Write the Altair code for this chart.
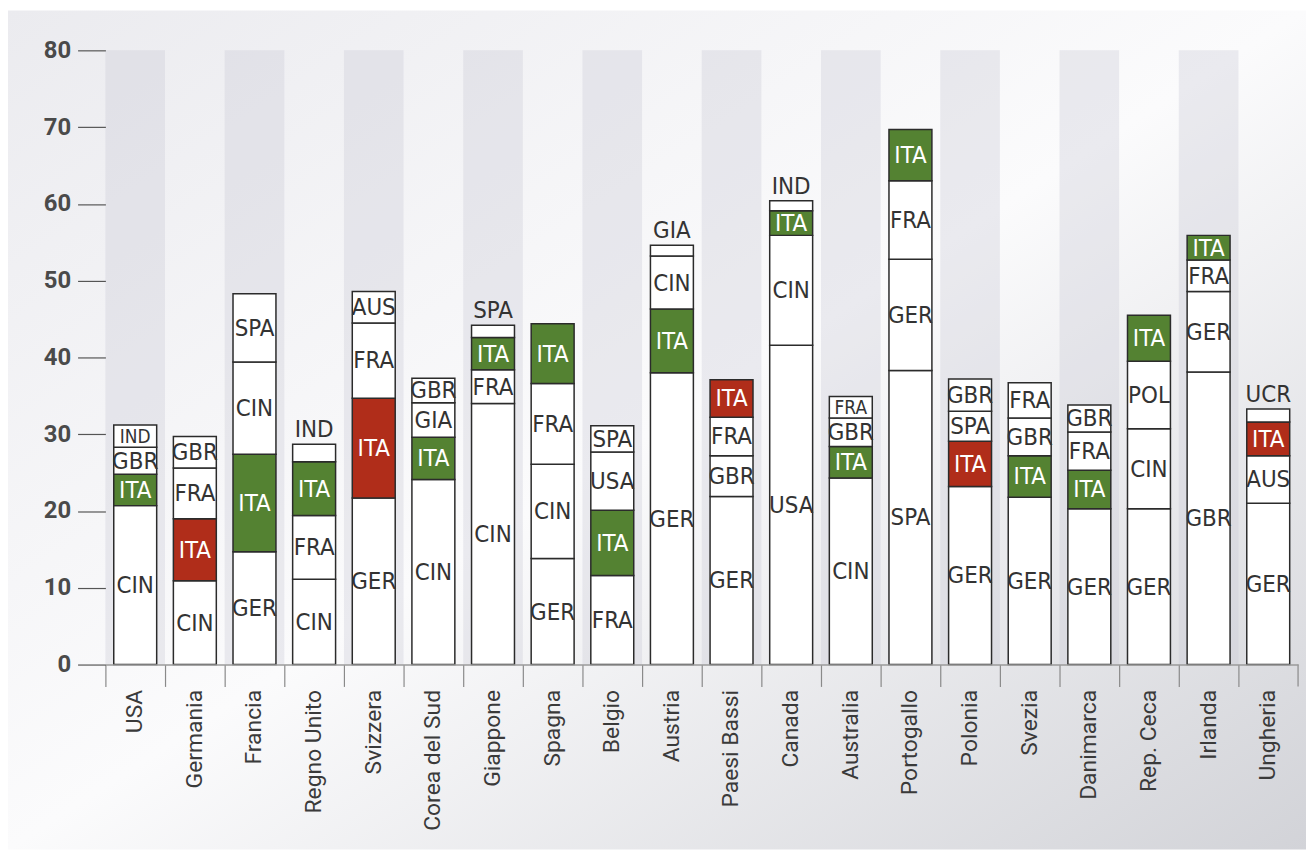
import altair as alt
import pandas as pd

countries = ["USA", "Germania", "Francia", "Regno Unito", "Svizzera", "Corea del Sud",
             "Giappone", "Spagna", "Belgio", "Austria", "Paesi Bassi", "Canada",
             "Australia", "Portogallo", "Polonia", "Svezia", "Danimarca", "Rep. Ceca",
             "Irlanda", "Ungheria"]

# segments from bottom to top
seg_codes = [
    ["CIN", "ITA", "GBR", "IND"],
    ["CIN", "ITA", "FRA", "GBR"],
    ["GER", "ITA", "CIN", "SPA"],
    ["CIN", "FRA", "ITA", "IND"],
    ["GER", "ITA", "FRA", "AUS"],
    ["CIN", "ITA", "GIA", "GBR"],
    ["CIN", "FRA", "ITA", "SPA"],
    ["GER", "CIN", "FRA", "ITA"],
    ["FRA", "ITA", "USA", "SPA"],
    ["GER", "ITA", "CIN", "GIA"],
    ["GER", "GBR", "FRA", "ITA"],
    ["USA", "CIN", "ITA", "IND"],
    ["CIN", "ITA", "GBR", "FRA"],
    ["SPA", "GER", "FRA", "ITA"],
    ["GER", "ITA", "SPA", "GBR"],
    ["GER", "ITA", "GBR", "FRA"],
    ["GER", "ITA", "FRA", "GBR"],
    ["GER", "CIN", "POL", "ITA"],
    ["GBR", "GER", "FRA", "ITA"],
    ["GER", "AUS", "ITA", "UCR"],
]
seg_values = [
    [20.7, 4.1, 3.5, 2.9],
    [10.9, 8.1, 6.6, 4.1],
    [14.7, 12.7, 12.0, 8.9],
    [11.1, 8.3, 7.0, 2.3],
    [21.7, 13.0, 9.8, 4.1],
    [24.1, 5.5, 4.5, 3.2],
    [34.0, 4.4, 4.2, 1.6],
    [13.8, 12.3, 10.5, 7.8],
    [11.6, 8.5, 7.6, 3.4],
    [38.0, 8.3, 6.9, 1.4],
    [21.9, 5.3, 5.0, 4.9],
    [41.6, 14.3, 3.2, 1.3],
    [24.3, 4.1, 3.7, 2.8],
    [38.3, 14.5, 10.2, 6.7],
    [23.2, 5.9, 3.9, 4.2],
    [21.8, 5.4, 4.9, 4.6],
    [20.3, 5.0, 5.0, 3.5],
    [20.3, 10.4, 8.8, 6.0],
    [38.1, 10.5, 4.1, 3.2],
    [21.0, 6.2, 4.4, 1.7],
]
# Italy's position: "up" (green) or "down" (red)
ita_trend = ["up", "down", "up", "up", "down", "up", "up", "up", "up", "up",
             "down", "up", "up", "up", "down", "up", "up", "up", "up", "down"]

y_ticks = [0, 10, 20, 30, 40, 50, 60, 70, 80]

rows = []
for i, c in enumerate(countries):
    base = 0.0
    for code, v in zip(seg_codes[i], seg_values[i]):
        if code == "ITA":
            kind = "ita_up" if ita_trend[i] == "up" else "ita_down"
        else:
            kind = "other"
        rows.append(dict(country=c, code=code, y0=base, y1=base + v, mid=base + v / 2,
                         size=v, kind=kind,
                         txtcol="white" if code == "ITA" else "dark"))
        base += v
df = pd.DataFrame(rows)
df["inside"] = df["size"] >= 2.5
bands = pd.DataFrame({"country": countries[::2]})
last = pd.DataFrame({"country": [countries[-1]]})

W, H = 1200, 618
PL, PT, PR, PB = 98, 40, 8, 186

xscale = alt.Scale(domain=countries, paddingInner=0, paddingOuter=0)
yscale = alt.Scale(domain=[0, 80], nice=False)
label_font = "Liberation Sans Narrow, DejaVu Sans Condensed, sans-serif"

x_axis = alt.Axis(title=None, labelAngle=-90, labelFont="Roboto", labelFontSize=23,
                  labelColor="#3a3a3a", labelPadding=3, bandPosition=0,
                  tickSize=22, tickColor="#8a8a8a", tickWidth=1.2,
                  domainColor="#9a9a9a", domainWidth=1.5, grid=False, zindex=2)
y_axis = alt.Axis(title=None, values=y_ticks, tickSize=28, tickColor="#555555",
                  tickWidth=1.2, labelPadding=7, labelFont="Roboto",
                  labelFontSize=24, labelFontWeight="bold", labelColor="#4a4a4a",
                  domain=False, grid=False, zindex=2)

bg = alt.Chart(pd.DataFrame({"a": [0]})).mark_rect(
    fill=alt.LinearGradient(
        gradient="linear", x1=0, y1=0, x2=1, y2=1,
        stops=[alt.GradientStop(color="#ebebef", offset=0),
               alt.GradientStop(color="#fbfbfc", offset=0.5),
               alt.GradientStop(color="#d2d3d8", offset=1)])
).encode(x=alt.value(-PL), x2=alt.value(W + PR), y=alt.value(-PT), y2=alt.value(H + PB))

band_layer = alt.Chart(bands).mark_rect(fill="#c9c9d6", opacity=0.33).encode(
    x=alt.X("country:N", scale=xscale, sort=countries, axis=x_axis),
    y=alt.datum(80, scale=yscale, axis=y_axis),
    y2=alt.datum(0),
)

bars = alt.Chart(df).mark_bar(
    width=alt.RelativeBandSize(0.72), stroke="#2b2b2b", strokeWidth=1.5
).encode(
    x=alt.X("country:N", scale=xscale, sort=countries, axis=x_axis),
    y=alt.Y("y0:Q", scale=yscale, axis=y_axis),
    y2="y1:Q",
    fill=alt.Fill("kind:N", legend=None,
                  scale=alt.Scale(domain=["other", "ita_up", "ita_down"],
                                  range=["#ffffff", "#548232", "#b02d1a"])),
)

inside_text = alt.Chart(df).transform_filter("datum.inside").mark_text(
    font=label_font, baseline="middle", dy=1
).encode(
    x=alt.X("country:N", scale=xscale, sort=countries),
    y=alt.Y("mid:Q", scale=yscale),
    text="code:N",
    size=alt.condition("datum.size < 3", alt.value(19), alt.value(24)),
    color=alt.Color("txtcol:N", legend=None,
                    scale=alt.Scale(domain=["dark", "white"], range=["#333333", "#ffffff"])),
)

above_text = alt.Chart(df).transform_filter("!datum.inside").mark_text(
    font=label_font, fontSize=24, baseline="bottom", dy=-2, color="#333333"
).encode(
    x=alt.X("country:N", scale=xscale, sort=countries),
    y=alt.Y("y1:Q", scale=yscale),
    text="code:N",
)

end_tick = alt.Chart(last).mark_rule(color="#8a8a8a", strokeWidth=1.2).encode(
    x=alt.X("country:N", scale=xscale, sort=countries, bandPosition=1),
    y=alt.value(H), y2=alt.value(H + 22),
)

chart = alt.layer(bg, band_layer, bars, inside_text, above_text, end_tick).properties(
    width=W, height=H,
    autosize=alt.AutoSizeParams(type="none"),
    padding={"left": PL, "top": PT, "right": PR, "bottom": PB},
    background="white",
).configure_view(stroke=None)

chart.save("out.html", embed_options={"renderer": "svg", "actions": False})
